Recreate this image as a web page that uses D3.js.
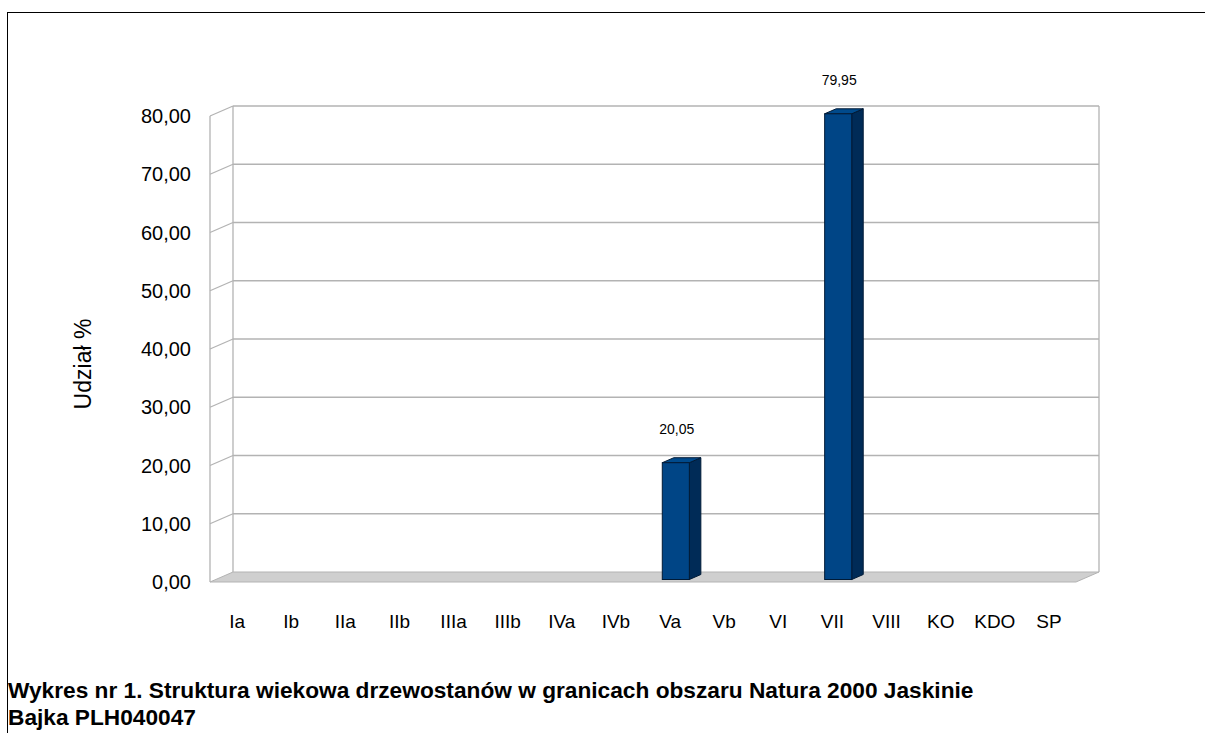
<!DOCTYPE html>
<html>
<head>
<meta charset="utf-8">
<script src="https://cdn.jsdelivr.net/npm/d3@7"></script>
<style>
  body { margin: 0; background: #fff; }
  svg text { font-family: "Liberation Sans", Arial, sans-serif; }
</style>
</head>
<body>
<div id="container"></div>
<script>
// data
var categories = ["Ia","Ib","IIa","IIb","IIIa","IIIb","IVa","IVb","Va","Vb","VI","VII","VIII","KO","KDO","SP"];
var values = [0,0,0,0,0,0,0,0,20.05,0,0,79.95,0,0,0,0];
var yTicks = [0,10,20,30,40,50,60,70,80];
var yTitle = "Udział %";
var titleLines = ["Wykres nr 1. Struktura wiekowa drzewostanów w granicach obszaru Natura 2000 Jaskinie",
                  "Bajka PLH040047"];

var width = 1205, height = 733;
var fmt = function(v) { return d3.format(".2f")(v).replace(".", ","); };

var svg = d3.select("#container").append("svg")
    .attr("width", width)
    .attr("height", height);

// outer frame
svg.append("rect")
    .attr("x", 7.5).attr("y", 12.5)
    .attr("width", 1300).attr("height", 900)
    .attr("fill", "none").attr("stroke", "#000").attr("stroke-width", 1);

// back wall geometry + depth offset (back -> front)
var back = {left: 233, right: 1099, top: 106, bottom: 572};
var depth = {dx: -23, dy: 10};

var y = d3.scaleLinear().domain([0, 80]).range([back.bottom, back.top]);
// x band on the front edge
var x = d3.scaleBand().domain(categories)
    .range([back.left + depth.dx, back.right + depth.dx]);

var gridColor = "#b3b3b3";

// floor
var floor = [[back.left, back.bottom], [back.right, back.bottom],
             [back.right + depth.dx, back.bottom + depth.dy], [back.left + depth.dx, back.bottom + depth.dy]];
svg.append("polygon")
    .attr("points", floor.map(function(p) { return p.join(","); }).join(" "))
    .attr("fill", "#cfcfcf").attr("stroke", gridColor).attr("stroke-width", 1);

// back wall grid
var grid = svg.append("g").attr("class", "grid");
grid.selectAll("line.h").data(yTicks.filter(function(d) { return d > 0; })).enter().append("line")
    .attr("x1", back.left).attr("x2", back.right)
    .attr("y1", function(d) { return y(d); }).attr("y2", function(d) { return y(d); })
    .attr("stroke", gridColor).attr("stroke-width", 1.3);
// side wall diagonals
grid.selectAll("line.d").data(yTicks.filter(function(d) { return d > 0; })).enter().append("line")
    .attr("x1", back.left + depth.dx).attr("x2", back.left)
    .attr("y1", function(d) { return y(d) + depth.dy; }).attr("y2", function(d) { return y(d); })
    .attr("stroke", gridColor).attr("stroke-width", 1.3);
// verticals
[[back.left, y(80), back.left, y(0)],
 [back.right, y(80), back.right, y(0)],
 [back.left + depth.dx, y(80) + depth.dy, back.left + depth.dx, y(0) + depth.dy]].forEach(function(l) {
  grid.append("line")
      .attr("x1", l[0]).attr("y1", l[1]).attr("x2", l[2]).attr("y2", l[3])
      .attr("stroke", gridColor).attr("stroke-width", 1.3);
});

// y tick labels (front edge)
svg.append("g").selectAll("text").data(yTicks).enter().append("text")
    .attr("x", 191)
    .attr("y", function(d) { return y(d) + depth.dy; })
    .attr("dy", "0.36em")
    .attr("text-anchor", "end")
    .style("font-size", "20px")
    .text(fmt);

// y title
svg.append("text")
    .attr("transform", "translate(91,364) rotate(-90)")
    .attr("text-anchor", "middle")
    .style("font-size", "23px")
    .text(yTitle);

// category labels
svg.append("g").selectAll("text").data(categories).enter().append("text")
    .attr("x", function(d) { return x(d) + x.bandwidth() / 2; })
    .attr("y", 628)
    .attr("text-anchor", "middle")
    .style("font-size", "19px")
    .text(function(d) { return d; });

// 3D bars: half band wide, sitting between 1/4 and 3/4 of the depth
var bw = x.bandwidth() / 2;
var f = 0.25, b = 0.75; // fraction of depth measured from front
var bars = svg.append("g").selectAll("g").data(values.map(function(v, i) { return {c: categories[i], v: v}; })
    .filter(function(d) { return d.v > 0; })).enter().append("g");

function pt(px, py) { return px + "," + py; }
bars.each(function(d) {
  var g = d3.select(this);
  var x0 = x(d.c) + x.bandwidth() / 4 - depth.dx * f;
  var x1 = x0 + bw;
  var yb = y(0) + depth.dy * (1 - f);
  var yt = y(d.v) + depth.dy * (1 - f);
  var sx = -depth.dx * (b - f), sy = -depth.dy * (b - f);
  // side
  g.append("polygon")
      .attr("points", [pt(x1, yt), pt(x1 + sx, yt + sy), pt(x1 + sx, yb + sy), pt(x1, yb)].join(" "))
      .attr("fill", "#002b57").attr("stroke", "#001a36").attr("stroke-width", 1);
  // top
  g.append("polygon")
      .attr("points", [pt(x0, yt), pt(x0 + sx, yt + sy), pt(x1 + sx, yt + sy), pt(x1, yt)].join(" "))
      .attr("fill", "#004a8c").attr("stroke", "#001a36").attr("stroke-width", 1);
  // front
  g.append("rect")
      .attr("x", x0).attr("y", yt).attr("width", bw).attr("height", yb - yt)
      .attr("fill", "#004586").attr("stroke", "#001a36").attr("stroke-width", 1);
  // value label
  g.append("text")
      .attr("x", x0 + bw / 2 + 1)
      .attr("y", y(d.v) - 21)
      .attr("text-anchor", "middle")
      .style("font-size", "14px")
      .text(fmt(d.v));
});

// caption
svg.append("g").selectAll("text").data(titleLines).enter().append("text")
    .attr("x", 8)
    .attr("y", function(d, i) { return 698 + i * 27; })
    .style("font-size", "22.7px")
    .style("font-weight", "bold")
    .text(function(d) { return d; });
</script>
</body>
</html>
